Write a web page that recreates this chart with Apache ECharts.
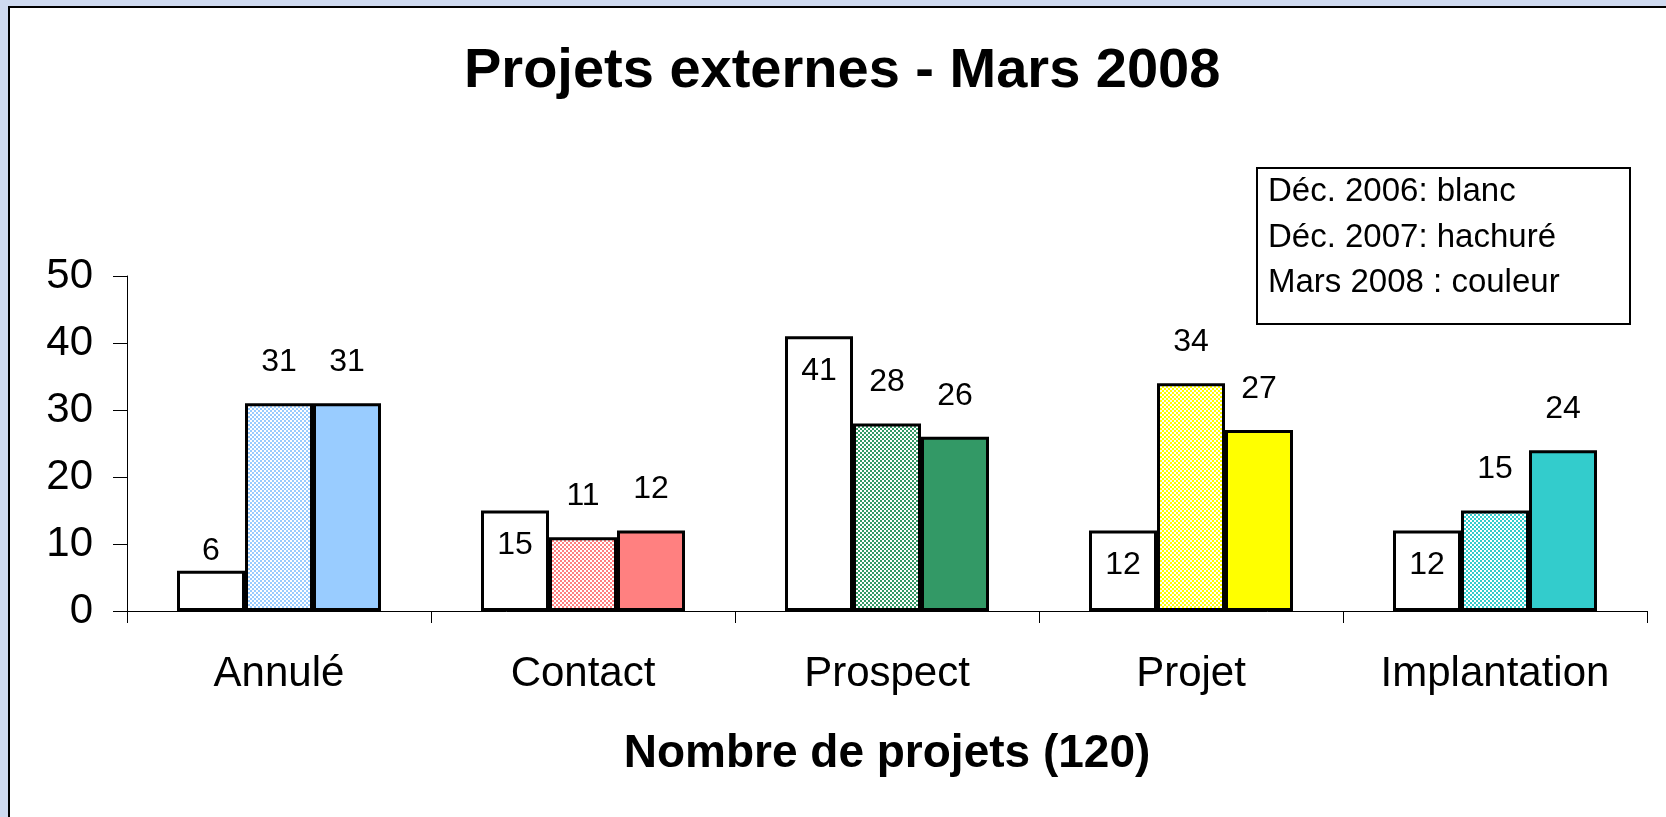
<!DOCTYPE html>
<html>
<head>
<meta charset="utf-8">
<script src="https://cdn.jsdelivr.net/npm/echarts@6/dist/echarts.min.js"></script>
<style>
  html, body { margin: 0; padding: 0; background: #cfdaf0; }
  #chart { width: 1666px; height: 817px; }
</style>
</head>
<body>
<div id="chart"></div>
<script>
// données
const categories = ['Annulé', 'Contact', 'Prospect', 'Projet', 'Implantation'];
const dec2006 = [6, 15, 41, 12, 12];
const dec2007 = [31, 11, 28, 34, 15];
const mars2008 = [31, 12, 26, 27, 24];
const legendLines = ['Déc. 2006: blanc', 'Déc. 2007: hachuré', 'Mars 2008 : couleur'];

// une couleur par catégorie
const palette = ['#99ccff', '#ff8080', '#339966', '#ffff00', '#33cccc'];
const FONT = 'Liberation Sans, Arial, sans-serif';

// motif "hachuré" : damier couleur / blanc
function hatch(color) {
  const c = document.createElement('canvas');
  c.width = 4;
  c.height = 4;
  const g = c.getContext('2d');
  g.fillStyle = '#ffffff';
  g.fillRect(0, 0, 4, 4);
  g.fillStyle = color;
  g.fillRect(0, 0, 2, 2);
  g.fillRect(2, 2, 2, 2);
  return { image: c, repeat: 'repeat' };
}

const border = { borderColor: '#000', borderWidth: 3 };
const labelBase = { show: true, color: '#000', fontSize: 32, fontFamily: FONT };

const chart = echarts.init(document.getElementById('chart'));
chart.setOption({
  backgroundColor: '#cfdaf0',
  animation: false,
  textStyle: { fontFamily: FONT, color: '#000' },
  title: {
    text: 'Projets externes - Mars 2008',
    left: 464,
    top: 44,
    padding: 0,
    textStyle: { fontSize: 56, fontWeight: 'bold', color: '#000', fontFamily: FONT },
  },
  graphic: [
    {
      type: 'rect',
      z: -10,
      shape: { x: 9, y: 7, width: 1700, height: 900 },
      style: { fill: '#fff', stroke: '#000', lineWidth: 2 },
    },
    {
      type: 'rect',
      shape: { x: 1257, y: 168, width: 373, height: 156 },
      style: { fill: '#fff', stroke: '#000', lineWidth: 2 },
    },
  ].concat(legendLines.map((t, i) => ({
    type: 'text',
    x: 1268,
    y: 192 + i * 45.5,
    style: { text: t, fontSize: 33, fontFamily: FONT, fill: '#000', verticalAlign: 'middle' },
  }))),
  grid: { left: 127, right: 19, top: 276, bottom: 206 },
  xAxis: {
    type: 'category',
    data: categories,
    name: 'Nombre de projets (120)',
    nameLocation: 'middle',
    nameGap: 120,
    nameTextStyle: { fontSize: 46, fontWeight: 'bold', color: '#000', fontFamily: FONT },
    axisLine: { lineStyle: { color: '#000', width: 1 } },
    axisTick: { show: true, length: 12, lineStyle: { color: '#000' } },
    axisLabel: { fontSize: 42, margin: 42, color: '#000', fontFamily: FONT },
  },
  yAxis: {
    type: 'value',
    min: 0,
    max: 50,
    interval: 10,
    splitLine: { show: false },
    axisLine: { show: true, lineStyle: { color: '#000', width: 1 } },
    axisTick: { show: true, length: 14, lineStyle: { color: '#000' } },
    axisLabel: { fontSize: 42, margin: 34, color: '#000', fontFamily: FONT },
  },
  series: [
    {
      name: 'Déc. 2006',
      type: 'bar',
      barWidth: 68,
      barGap: '0%',
      data: dec2006.map((v) => ({
        value: v,
        label: v < 10
          ? Object.assign({}, labelBase, { position: 'top', distance: 4 })
          : Object.assign({}, labelBase, { position: 'insideTop', distance: 19 }),
      })),
      itemStyle: Object.assign({ color: '#fff' }, border),
    },
    {
      name: 'Déc. 2007',
      type: 'bar',
      barWidth: 68,
      barGap: '0%',
      data: dec2007.map((v, i) => ({ value: v, itemStyle: { color: hatch(palette[i]) } })),
      itemStyle: border,
      label: Object.assign({}, labelBase, { position: 'top', distance: 25 }),
    },
    {
      name: 'Mars 2008',
      type: 'bar',
      barWidth: 68,
      barGap: '0%',
      data: mars2008.map((v, i) => ({ value: v, itemStyle: { color: palette[i] } })),
      itemStyle: border,
      label: Object.assign({}, labelBase, { position: 'top', distance: 25 }),
    },
  ],
});
</script>
</body>
</html>
